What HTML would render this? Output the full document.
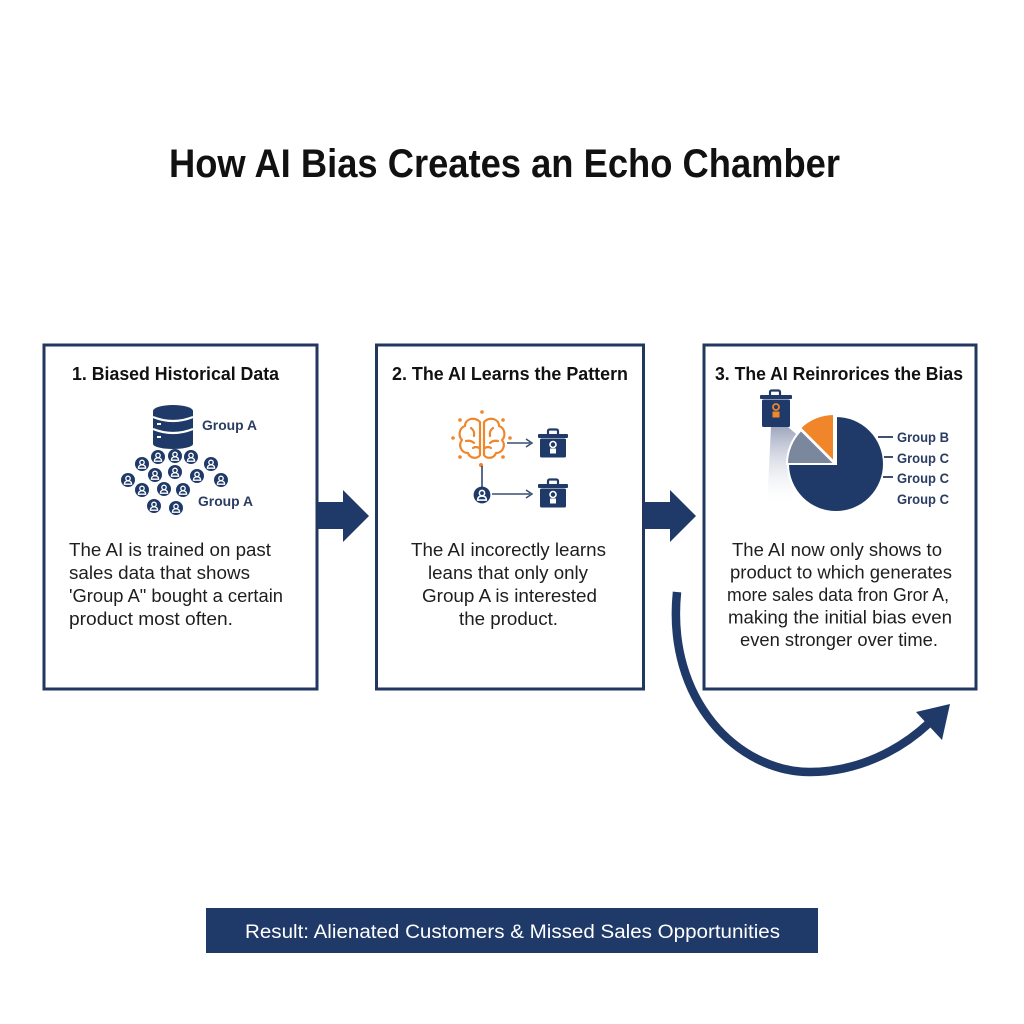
<!DOCTYPE html>
<html>
<head>
<meta charset="utf-8">
<style>
  html,body{margin:0;padding:0;background:#fff;}
  svg{display:block;}
  text{font-family:"Liberation Sans", Arial, sans-serif;}
</style>
</head>
<body>
<svg width="1024" height="1024" viewBox="0 0 1024 1024" xmlns="http://www.w3.org/2000/svg">
  <defs>
    <linearGradient id="beam" x1="0" y1="0" x2="0" y2="1">
      <stop offset="0" stop-color="#8e98b3" stop-opacity="0.85"/>
      <stop offset="1" stop-color="#ffffff" stop-opacity="0"/>
    </linearGradient>
    <g id="person">
      <circle cx="0" cy="0" r="7" fill="#1f3a68"/>
      <circle cx="0" cy="-1.6" r="2.2" fill="none" stroke="#fff" stroke-width="1.3"/>
      <path d="M-3.6,4.2 Q-3.6,0.9 0,0.9 Q3.6,0.9 3.6,4.2 Z" fill="none" stroke="#fff" stroke-width="1.3"/>
    </g>
    <g id="prod">
      <rect x="10" y="0.5" width="10" height="6" rx="1.5" fill="none" stroke="#1f3a68" stroke-width="2.2"/>
      <rect x="0" y="5" width="30" height="4" rx="1" fill="#1f3a68"/>
      <rect x="2" y="9.5" width="26" height="19" rx="1.5" fill="#1f3a68"/>
      <circle cx="15" cy="15.5" r="3" fill="none" stroke="#fff" stroke-width="1.6"/>
      <rect x="12" y="19.5" width="6" height="5" fill="#fff"/>
    </g>
  </defs>

  <!-- Title -->
  <text x="169" y="177" font-size="40" font-weight="bold" fill="#111" textLength="671" lengthAdjust="spacingAndGlyphs">How AI Bias Creates an Echo Chamber</text>

  <!-- Boxes -->
  <rect x="44" y="345" width="273" height="344" fill="#fff" stroke="#22375f" stroke-width="3"/>
  <rect x="376.5" y="345" width="267" height="344" fill="#fff" stroke="#22375f" stroke-width="3"/>
  <rect x="704" y="345" width="272" height="344" fill="#fff" stroke="#22375f" stroke-width="3"/>

  <!-- Box titles -->
  <text x="72" y="380" font-size="18" font-weight="bold" fill="#111" textLength="207" lengthAdjust="spacingAndGlyphs">1. Biased Historical Data</text>
  <text x="392" y="380" font-size="18" font-weight="bold" fill="#111" textLength="236" lengthAdjust="spacingAndGlyphs">2. The AI Learns the Pattern</text>
  <text x="715" y="380" font-size="18" font-weight="bold" fill="#111" textLength="248" lengthAdjust="spacingAndGlyphs">3. The AI Reinrorices the Bias</text>

  <!-- Box 1 icons: database -->
  <g fill="#1f3a68">
    <rect x="153" y="411" width="40" height="33" fill="#1f3a68"/>
    <ellipse cx="173" cy="411" rx="20" ry="6"/>
    <ellipse cx="173" cy="444" rx="20" ry="5"/>
  </g>
  <path d="M153,417 Q173,425 193,417" fill="none" stroke="#fff" stroke-width="2.2"/>
  <path d="M153,429 Q173,437 193,429" fill="none" stroke="#fff" stroke-width="2.2"/>
  <rect x="157" y="423" width="4" height="2" fill="#fff"/>
  <rect x="157" y="436" width="4" height="2" fill="#fff"/>
  <text x="202" y="430" font-size="14" font-weight="bold" fill="#2b3d63" textLength="55" lengthAdjust="spacingAndGlyphs">Group A</text>

  <!-- people -->
  <use href="#person" x="158" y="457"/>
  <use href="#person" x="175" y="456"/>
  <use href="#person" x="191" y="457"/>
  <use href="#person" x="142" y="464"/>
  <use href="#person" x="211" y="464"/>
  <use href="#person" x="128" y="480"/>
  <use href="#person" x="155" y="475"/>
  <use href="#person" x="175" y="472"/>
  <use href="#person" x="197" y="476"/>
  <use href="#person" x="221" y="480"/>
  <use href="#person" x="142" y="490"/>
  <use href="#person" x="164" y="489"/>
  <use href="#person" x="183" y="490"/>
  <use href="#person" x="154" y="506"/>
  <use href="#person" x="176" y="508"/>
  <text x="198" y="506" font-size="14" font-weight="bold" fill="#2b3d63" textLength="55" lengthAdjust="spacingAndGlyphs">Group A</text>

  <!-- Box 1 body -->
  <g font-size="18" fill="#1e1e1e">
    <text x="69" y="556" textLength="202" lengthAdjust="spacingAndGlyphs">The AI is trained on past</text>
    <text x="69" y="579" textLength="181" lengthAdjust="spacingAndGlyphs">sales data that shows</text>
    <text x="69" y="602" textLength="214" lengthAdjust="spacingAndGlyphs">'Group A" bought a certain</text>
    <text x="69" y="625" textLength="164" lengthAdjust="spacingAndGlyphs">product most often.</text>
  </g>

  <!-- Box 2 icons: brain -->
  <g fill="#f0852a">
    <circle cx="482" cy="412" r="1.8"/>
    <circle cx="460" cy="420" r="1.8"/>
    <circle cx="503" cy="420" r="1.8"/>
    <circle cx="453" cy="438" r="1.8"/>
    <circle cx="510" cy="438" r="1.8"/>
    <circle cx="460" cy="457" r="1.8"/>
    <circle cx="503" cy="457" r="1.8"/>
    <circle cx="481" cy="465" r="2"/>
  </g>
  <g fill="none" stroke="#f0852a" stroke-width="2.2" stroke-linecap="round" stroke-linejoin="round">
    <path d="M480,422 C474,416 465,419 465,426 C459,428 458,436 462,440 C458,445 461,453 468,453 C470,459 478,459 480,455 Z"/>
    <path d="M484,422 C490,416 499,419 499,426 C505,428 506,436 502,440 C506,445 503,453 496,453 C494,459 486,459 484,455 Z"/>
    <path d="M471,428 Q475,431 474,436"/>
    <path d="M466,441 Q471,440 474,443"/>
    <path d="M473,448 Q476,446 479,448"/>
    <path d="M493,428 Q489,431 490,436"/>
    <path d="M498,441 Q493,440 490,443"/>
    <path d="M491,448 Q488,446 485,448"/>
  </g>
  <line x1="482" y1="466" x2="482" y2="487" stroke="#1f3a68" stroke-width="1.5"/>
  <use href="#person" x="482" y="495" transform="translate(-96.4,-99) scale(1.2)"/>
  <!-- arrows -->
  <line x1="507" y1="443" x2="530" y2="443" stroke="#3a4e72" stroke-width="1.5"/>
  <path d="M526,439 L532,443 L526,447" fill="none" stroke="#3a4e72" stroke-width="1.5"/>
  <line x1="492" y1="494" x2="530" y2="494" stroke="#3a4e72" stroke-width="1.5"/>
  <path d="M526,490 L532,494 L526,498" fill="none" stroke="#3a4e72" stroke-width="1.5"/>
  <use href="#prod" x="538" y="429"/>
  <use href="#prod" x="538" y="479"/>

  <!-- Box 2 body -->
  <g font-size="18" fill="#1e1e1e">
    <text x="411" y="556" textLength="195" lengthAdjust="spacingAndGlyphs">The AI incorectly learns</text>
    <text x="428" y="579" textLength="160" lengthAdjust="spacingAndGlyphs">leans that only only</text>
    <text x="422" y="602" textLength="175" lengthAdjust="spacingAndGlyphs">Group A is interested</text>
    <text x="459" y="625" textLength="99" lengthAdjust="spacingAndGlyphs">the product.</text>
  </g>

  <!-- Box 3 icons -->
  <polygon points="771,427 788,427 803,440 790,508 767,508" fill="url(#beam)"/>
  <path d="M836,464 L836,416 A48,48 0 1 1 788,464 Z" fill="#1f3a68" stroke="#fff" stroke-width="2"/>
  <path d="M835,464 L787,464 A48,48 0 0 1 801,430 Z" fill="#7b879c" stroke="#fff" stroke-width="2"/>
  <path d="M834,462 L800,428 A48,48 0 0 1 834,414 Z" fill="#f0852a" stroke="#fff" stroke-width="2"/>
  <g>
    <rect x="770" y="390.5" width="10" height="6" rx="1.5" fill="none" stroke="#1f3a68" stroke-width="2.2"/>
    <rect x="760" y="395" width="32" height="4" rx="1" fill="#1f3a68"/>
    <rect x="762" y="399.5" width="28" height="27.5" rx="1.5" fill="#1f3a68"/>
    <circle cx="776" cy="407" r="3" fill="none" stroke="#f0852a" stroke-width="1.8"/>
    <rect x="772.5" y="411.5" width="7" height="6" fill="#f0852a"/>
  </g>
  <g stroke="#2b3d63" stroke-width="1.8">
    <line x1="878" y1="437" x2="893" y2="437"/>
    <line x1="884" y1="457" x2="893" y2="457"/>
    <line x1="883" y1="477" x2="893" y2="477"/>
  </g>
  <g font-size="14" font-weight="bold" fill="#2b3d63">
    <text x="897" y="442" textLength="52" lengthAdjust="spacingAndGlyphs">Group B</text>
    <text x="897" y="463" textLength="52" lengthAdjust="spacingAndGlyphs">Group C</text>
    <text x="897" y="483" textLength="52" lengthAdjust="spacingAndGlyphs">Group C</text>
    <text x="897" y="504" textLength="52" lengthAdjust="spacingAndGlyphs">Group C</text>
  </g>

  <!-- Box 3 body -->
  <g font-size="18" fill="#1e1e1e">
    <text x="732" y="556" textLength="210" lengthAdjust="spacingAndGlyphs">The AI now only shows to</text>
    <text x="730" y="578.5" textLength="222" lengthAdjust="spacingAndGlyphs">product to which generates</text>
    <text x="727" y="601" textLength="222" lengthAdjust="spacingAndGlyphs">more sales data fron Gror A,</text>
    <text x="728" y="623.5" textLength="224" lengthAdjust="spacingAndGlyphs">making the initial bias even</text>
    <text x="740" y="646" textLength="198" lengthAdjust="spacingAndGlyphs">even stronger over time.</text>
  </g>

  <!-- Arrows between boxes -->
  <polygon points="318,502 343,502 343,490 369,516 343,542 343,529 318,529" fill="#1f3a68"/>
  <polygon points="645,502 670,502 670,490 696,516 670,542 670,529 645,529" fill="#1f3a68"/>

  <!-- Curved arrow -->
  <path d="M677,592 C666,700 738,772 810,772 C858,772 900,750 928,724" fill="none" stroke="#1f3a68" stroke-width="8.5"/>
  <polygon points="950,704 916,712 942,740" fill="#1f3a68"/>

  <!-- Result bar -->
  <rect x="206" y="908" width="612" height="45" fill="#1f3a68"/>
  <text x="245" y="938" font-size="19" fill="#fff" textLength="535" lengthAdjust="spacingAndGlyphs">Result: Alienated Customers &amp; Missed Sales Opportunities</text>
</svg>
</body>
</html>
